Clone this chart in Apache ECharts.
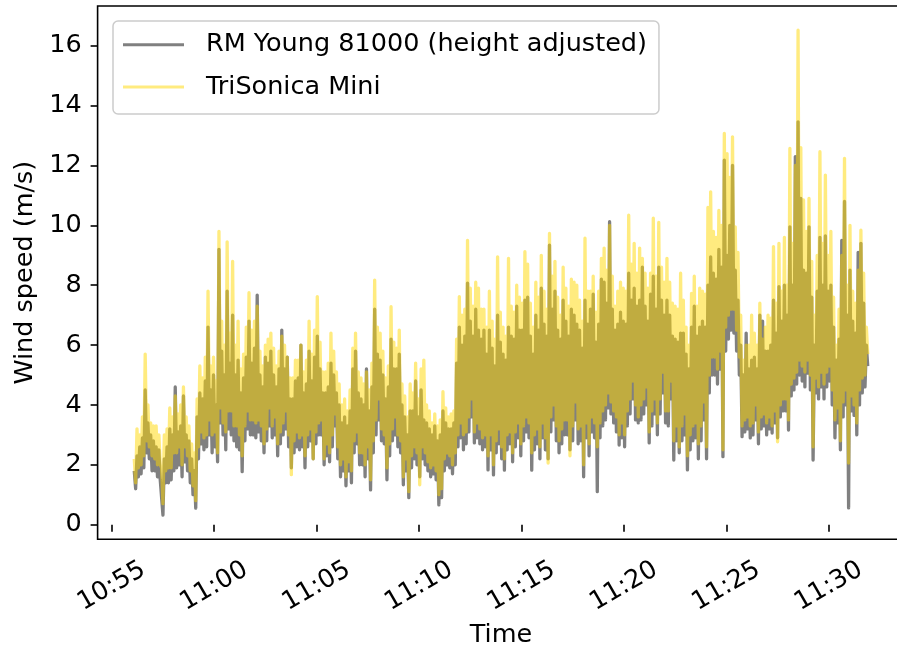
<!DOCTYPE html>
<html>
<head>
<meta charset="utf-8">
<title>Wind speed comparison</title>
<script src="https://cdn.jsdelivr.net/npm/echarts@6/dist/echarts.min.js"></script>
<style>
  html, body { margin: 0; padding: 0; background: #ffffff; }
  #chart { width: 897px; height: 649px; }
</style>
</head>
<body>
<div id="chart"></div>
<script>
// Both records share one clock: a gust maximum every 8 s, the lull that
// follows it 4 s later.
const startTime = '10:56:06';
const sampleSeconds = 8;

const seriesNames = ['RM Young 81000 (height adjusted)', 'TriSonica Mini'];

// RM Young 81000, height adjusted: gust maxima (m/s)
const rmYoungPeaks = [
  1.8, 2.3, 2.6, 2.9, 4.5, 3.4, 3.0, 2.8, 2.6, 2.5,
  1.5, 2.2, 2.6, 3.2, 3.0, 4.6, 3.1, 3.3, 4.3, 3.0,
  2.8, 2.2, 1.8, 3.6, 4.4, 4.2, 4.8, 6.6, 4.5, 5.0,
  4.0, 9.2, 5.8, 5.0, 7.8, 5.4, 7.0, 5.0, 5.5, 4.4,
  4.9, 5.6, 6.8, 5.4, 5.9, 7.67, 5.0, 4.6, 5.6, 5.4,
  5.8, 5.0, 4.6, 5.2, 6.5, 5.2, 5.6, 4.2, 4.2, 4.8,
  4.9, 6.0, 4.4, 4.7, 5.8, 4.8, 5.6, 6.3, 5.2, 4.4,
  4.4, 4.6, 5.4, 5.0, 4.4, 4.0, 3.4, 3.6, 3.3, 3.8,
  5.2, 5.8, 4.4, 4.2, 4.0, 5.2, 3.8, 4.6, 7.2, 5.7,
  5.5, 5.0, 4.2, 4.6, 6.2, 5.2, 5.2, 5.7, 4.0, 3.6,
  3.0, 3.8, 3.8, 4.8, 3.6, 4.5, 3.5, 3.4, 3.2, 3.0,
  3.3, 2.8, 3.0, 3.8, 3.4, 3.2, 3.2, 3.4, 5.4, 6.6,
  6.0, 6.3, 8.07, 6.8, 6.3, 7.2, 6.5, 6.2, 6.5, 5.7,
  6.5, 5.9, 5.3, 7.0, 6.1, 5.7, 5.5, 6.6, 6.3, 6.2,
  7.3, 6.5, 6.5, 7.5, 7.6, 6.3, 5.7, 7.0, 6.5, 7.9,
  6.7, 6.3, 9.34, 7.2, 7.8, 6.5, 6.2, 7.5, 6.8, 6.3,
  7.2, 7.0, 6.7, 6.5, 5.9, 7.5, 6.7, 7.2, 7.7, 6.1,
  6.7, 8.2, 8.1, 7.4, 10.12, 7.2, 6.5, 6.7, 7.1, 6.8,
  6.7, 8.4, 7.5, 7.9, 7.3, 7.5, 8.6, 7.3, 6.8, 7.7,
  8.3, 7.2, 8.6, 7.5, 7.0, 7.5, 7.0, 6.3, 6.2, 6.1,
  6.4, 6.4, 5.7, 5.2, 6.6, 7.3, 6.3, 6.6, 6.8, 6.6,
  8.0, 8.95, 8.4, 8.2, 9.2, 8.6, 12.18, 9.0, 10.0, 12.0,
  8.5, 7.5, 6.0, 5.0, 6.4, 5.2, 5.5, 5.6, 5.2, 7.0,
  6.8, 5.8, 5.8, 6.0, 7.5, 6.4, 7.95, 6.8, 8.0, 7.0,
  9.95, 8.0, 12.3, 13.46, 10.9, 8.5, 8.4, 9.95, 7.6, 6.0,
  7.8, 9.6, 8.0, 9.65, 7.8, 8.0, 6.6, 5.5, 6.2, 9.5,
  10.8, 7.0, 8.5, 6.8, 6.4, 9.1, 9.4, 7.4, 6.0
];

// RM Young 81000, height adjusted: lulls (m/s)
const rmYoungLulls = [
  1.2, 1.6, 1.7, 1.9, 2.4, 2.2, 1.8, 1.8, 1.6, 1.5,
  0.32, 1.4, 1.4, 1.5, 1.8, 1.9, 2.0, 1.6, 2.1, 1.8,
  1.4, 1.0, 0.55, 2.2, 2.7, 2.5, 2.6, 3.0, 2.4, 2.6,
  2.1, 3.4, 3.0, 2.5, 3.2, 3.0, 2.8, 2.6, 2.5, 1.77,
  2.8, 3.2, 3.0, 3.0, 2.9, 3.1, 2.8, 2.4, 2.8, 3.3,
  2.9, 3.0, 2.3, 2.7, 3.0, 3.2, 2.6, 1.9, 2.4, 2.6,
  2.5, 2.6, 1.9, 2.6, 2.8, 2.2, 2.7, 3.0, 3.0, 2.0,
  2.3, 2.1, 2.6, 3.3, 2.2, 1.6, 1.8, 1.3, 1.8, 1.4,
  2.4, 2.7, 2.0, 2.0, 1.6, 2.2, 1.16, 2.4, 3.0, 3.5,
  2.8, 2.7, 1.5, 2.3, 2.8, 3.0, 2.6, 2.4, 1.33, 1.8,
  0.9, 1.9, 2.2, 2.0, 1.6, 2.2, 2.0, 1.8, 1.6, 1.7,
  1.5, 0.66, 0.9, 1.8, 2.0, 1.9, 1.7, 2.0, 2.6, 2.9,
  2.5, 2.7, 3.1, 3.6, 2.73, 2.9, 2.7, 2.5, 2.6, 1.83,
  2.5, 1.66, 2.4, 2.7, 2.2, 1.82, 2.5, 2.7, 2.1, 2.6,
  2.9, 2.3, 2.8, 3.1, 2.9, 1.82, 2.5, 2.7, 2.2, 2.9,
  2.5, 2.2, 3.1, 3.5, 2.8, 2.4, 2.7, 3.0, 3.0, 2.5,
  2.8, 3.5, 2.7, 2.8, 1.6, 2.9, 2.3, 3.1, 2.9, 1.1,
  2.9, 3.3, 3.5, 3.9, 3.7, 3.4, 3.1, 2.66, 2.9, 2.6,
  3.3, 3.7, 4.2, 3.5, 3.4, 3.5, 3.7, 4.0, 2.73, 3.3,
  3.7, 3.0, 3.7, 4.4, 3.4, 3.3, 4.2, 2.16, 2.8, 2.4,
  2.8, 3.0, 1.83, 2.5, 2.8, 2.9, 2.2, 2.8, 3.5, 2.2,
  4.4, 5.0, 5.0, 4.7, 5.2, 2.27, 5.8, 6.2, 6.5, 6.4,
  5.8, 5.0, 2.94, 3.1, 3.2, 2.9, 3.0, 3.5, 2.7, 3.2,
  3.3, 3.0, 3.2, 3.06, 3.4, 2.9, 3.6, 3.8, 3.8, 3.16,
  4.3, 4.5, 4.7, 5.0, 4.8, 4.6, 5.06, 4.5, 2.16, 4.4,
  4.2, 4.6, 4.2, 4.6, 4.8, 4.0, 2.9, 3.4, 2.5, 3.6,
  4.0, 0.56, 3.8, 3.65, 3.0, 4.0, 4.4, 4.6, 5.3
];

// TriSonica Mini: gust maxima (m/s)
const triSonicaPeaks = [
  2.2, 3.2, 3.0, 3.6, 5.7, 4.0, 3.4, 3.3, 3.3, 3.0,
  1.9, 3.0, 3.2, 3.9, 3.6, 4.3, 3.7, 4.0, 4.6, 3.6,
  3.3, 2.7, 2.4, 4.2, 5.3, 4.9, 5.6, 7.8, 5.3, 5.6,
  4.8, 9.8, 6.8, 6.0, 9.45, 6.4, 8.8, 6.0, 6.8, 5.2,
  5.7, 6.6, 7.75, 6.5, 6.8, 7.3, 5.8, 5.3, 6.0, 6.2,
  6.4, 5.9, 5.3, 5.8, 6.3, 6.0, 5.6, 4.9, 4.9, 5.5,
  5.5, 6.0, 5.1, 5.5, 6.8, 5.7, 6.5, 7.62, 6.1, 5.1,
  5.1, 5.4, 6.4, 5.8, 5.1, 4.7, 4.0, 4.2, 3.8, 4.5,
  5.9, 6.4, 5.1, 4.9, 4.7, 5.1, 4.5, 5.4, 8.17, 6.6,
  6.4, 5.8, 4.9, 5.3, 7.28, 6.1, 5.9, 6.5, 4.7, 4.3,
  3.6, 4.7, 4.4, 5.4, 4.2, 5.2, 5.5, 4.0, 3.8, 3.4,
  3.7, 3.3, 3.5, 4.44, 3.9, 3.6, 3.7, 3.8, 6.2, 7.62,
  7.0, 7.2, 9.5, 7.9, 7.3, 8.1, 7.9, 7.2, 7.2, 6.6,
  7.8, 6.8, 6.2, 8.95, 7.1, 6.6, 6.3, 8.9, 7.3, 7.1,
  8.0, 7.6, 7.4, 9.12, 8.7, 7.4, 6.6, 8.1, 7.6, 9.0,
  7.8, 7.2, 9.73, 8.3, 8.8, 7.6, 7.0, 8.6, 7.9, 7.3,
  8.2, 8.1, 8.0, 7.5, 6.8, 9.57, 7.8, 7.8, 8.3, 7.1,
  7.8, 8.9, 9.24, 8.5, 10.0, 8.3, 7.3, 7.8, 8.1, 7.9,
  7.8, 10.34, 8.7, 9.4, 8.4, 9.24, 8.9, 8.4, 7.9, 8.4,
  10.24, 8.3, 10.1, 8.6, 8.1, 8.9, 8.1, 7.4, 7.3, 7.2,
  8.4, 7.5, 6.6, 6.0, 7.73, 8.3, 7.3, 7.9, 7.8, 7.7,
  10.6, 11.12, 9.8, 9.6, 10.5, 10.0, 13.07, 12.4, 11.6, 12.96,
  9.95, 9.1, 7.0, 5.5, 6.0, 6.0, 7.0, 6.4, 6.0, 7.4,
  6.2, 6.6, 7.0, 6.9, 9.29, 7.4, 9.4, 7.8, 9.6, 8.0,
  12.57, 9.4, 12.0, 16.52, 12.6, 10.85, 9.8, 10.9, 8.8, 7.0,
  9.0, 12.46, 9.4, 11.68, 9.0, 9.8, 7.6, 6.0, 7.2, 9.0,
  12.24, 8.0, 10.0, 7.8, 7.4, 8.5, 9.84, 8.4, 6.6
];

// TriSonica Mini: lulls (m/s)
const triSonicaLulls = [
  1.4, 1.9, 2.0, 2.3, 2.8, 2.6, 2.3, 2.2, 2.0, 2.0,
  0.7, 1.8, 1.9, 1.9, 2.4, 2.4, 2.6, 2.0, 2.6, 2.3,
  1.8, 1.3, 0.8, 2.6, 3.1, 2.9, 3.0, 3.5, 3.0, 3.1,
  2.4, 3.9, 3.4, 3.1, 3.8, 3.8, 3.3, 3.3, 3.0, 2.3,
  3.3, 3.8, 3.5, 3.5, 3.4, 3.5, 3.3, 2.7, 3.2, 3.9,
  3.3, 3.6, 2.7, 3.1, 3.4, 3.8, 3.0, 1.67, 2.8, 3.1,
  2.9, 3.0, 2.3, 3.0, 3.2, 2.2, 3.1, 3.4, 3.5, 2.2,
  2.7, 2.4, 3.0, 3.7, 2.6, 2.0, 2.2, 1.6, 2.1, 1.8,
  2.8, 3.1, 2.4, 2.4, 2.0, 2.6, 1.5, 2.8, 3.5, 4.2,
  3.2, 3.0, 1.9, 2.7, 3.2, 3.6, 3.0, 2.8, 1.6, 2.2,
  1.1, 2.3, 2.6, 2.4, 1.33, 2.6, 2.4, 2.1, 1.9, 2.0,
  1.8, 1.0, 1.2, 2.2, 2.4, 2.3, 2.0, 2.4, 3.0, 3.4,
  3.0, 3.1, 3.6, 4.2, 3.1, 3.4, 3.2, 2.9, 3.0, 2.3,
  3.0, 2.0, 2.8, 3.2, 2.6, 2.2, 3.0, 3.1, 2.4, 3.1,
  3.4, 2.7, 3.3, 3.6, 3.4, 2.4, 3.0, 3.2, 2.6, 3.4,
  2.9, 2.06, 3.6, 4.0, 3.3, 2.8, 3.2, 3.5, 3.5, 2.3,
  3.3, 4.1, 3.2, 3.3, 2.0, 3.4, 2.7, 3.6, 3.4, 2.6,
  3.4, 3.8, 4.0, 4.4, 4.1, 3.8, 3.6, 3.0, 3.4, 3.0,
  3.8, 4.2, 4.8, 4.0, 3.6, 4.0, 4.2, 4.6, 3.1, 3.8,
  4.2, 3.4, 4.2, 5.1, 3.8, 3.8, 4.8, 2.8, 3.3, 2.6,
  3.3, 3.7, 2.3, 3.0, 3.3, 3.4, 2.7, 3.3, 4.1, 2.6,
  5.0, 5.6, 5.6, 5.2, 5.8, 2.5, 6.6, 7.0, 7.2, 7.2,
  6.5, 5.6, 3.3, 3.5, 3.6, 3.3, 3.4, 4.0, 3.1, 3.6,
  3.7, 3.4, 3.6, 3.3, 3.8, 2.77, 4.0, 4.2, 4.2, 3.5,
  4.7, 4.9, 5.1, 5.5, 5.3, 5.1, 5.5, 5.0, 2.6, 4.9,
  4.6, 5.1, 4.7, 5.1, 5.3, 4.5, 3.5, 3.9, 2.8, 4.1,
  4.5, 2.06, 4.3, 4.0, 3.4, 4.5, 4.9, 5.0, 5.7
];

// Axis ticks
const xTickLabels = ['10:55', '11:00', '11:05', '11:10', '11:15', '11:20', '11:25', '11:30'];
const yTickValues = [0, 2, 4, 6, 8, 10, 12, 14, 16];

const FONT = 'DejaVu Sans';
const FS = 25.5;

function toSeconds(s) {
  const p = s.split(':').map(Number);
  return p[0] * 3600 + p[1] * 60 + (p[2] || 0);
}
function pad2(n) { return (n < 10 ? '0' : '') + n; }
function formatClock(sec) {
  const m = Math.round(sec / 60);
  return pad2(Math.floor(m / 60)) + ':' + pad2(m % 60);
}

const t0 = toSeconds(startTime);

// Merge maxima and lulls into one time-ordered record
function toRecord(peaks, lulls) {
  const out = [];
  peaks.forEach((p, k) => {
    const t = t0 + k * sampleSeconds;
    out.push([t, p]);
    out.push([t + sampleSeconds / 2, lulls[k]]);
  });
  return out;
}
const rmData = toRecord(rmYoungPeaks, rmYoungLulls);
const triData = toRecord(triSonicaPeaks, triSonicaLulls);

// 5% margins around the data, like the default autoscaling
const tMin = rmData[0][0], tMax = rmData[rmData.length - 1][0];
const tPad = 0.05 * (tMax - tMin);
const allV = rmYoungPeaks.concat(rmYoungLulls, triSonicaPeaks, triSonicaLulls);
const vMin = Math.min(...allV), vMax = Math.max(...allV);
const vPad = 0.05 * (vMax - vMin);

const xTickValues = xTickLabels.map(toSeconds);

const chart = echarts.init(document.getElementById('chart'), null, { renderer: 'canvas' });

chart.setOption({
  animation: false,
  backgroundColor: '#ffffff',
  grid: {
    left: 97.6, top: 6, right: -7.4, bottom: 109.7,
    show: true, borderColor: '#000000', borderWidth: 1.6,
    backgroundColor: 'transparent',
    containLabel: false, outerBoundsMode: 'none'
  },
  legend: {
    orient: 'vertical',
    left: 113, top: 21,
    padding: [5.7, 12, 9, 10],
    itemGap: 6.3,
    itemWidth: 61, itemHeight: 3,
    icon: 'rect',
    backgroundColor: 'rgba(255,255,255,0.8)',
    borderColor: '#cccccc', borderWidth: 1.5, borderRadius: 5,
    textStyle: { fontFamily: FONT, fontSize: FS, color: '#000000', lineHeight: 36, padding: [0, 0, 0, 17] },
    data: seriesNames
  },
  xAxis: {
    type: 'value',
    min: tMin - tPad, max: tMax + tPad,
    axisLine: { show: false },
    splitLine: { show: false },
    axisTick: { show: true, length: 7, lineStyle: { color: '#000000', width: 1.6 }, customValues: xTickValues },
    axisLabel: {
      customValues: xTickValues,
      formatter: v => formatClock(v),
      rotate: 30, align: 'center', verticalAlign: 'middle', margin: 47,
      fontFamily: FONT, fontSize: FS, color: '#000000'
    },
    name: 'Time', nameLocation: 'middle', nameGap: 81,
    nameTextStyle: { fontFamily: FONT, fontSize: FS, color: '#000000' }
  },
  yAxis: {
    type: 'value',
    min: vMin - vPad, max: vMax + vPad,
    axisLine: { show: false },
    splitLine: { show: false },
    axisTick: { show: true, length: 7, lineStyle: { color: '#000000', width: 1.6 }, customValues: yTickValues },
    axisLabel: {
      customValues: yTickValues, margin: 16,
      fontFamily: FONT, fontSize: FS, color: '#000000'
    },
    name: 'Wind speed (m/s)', nameLocation: 'middle', nameGap: 58,
    nameTextStyle: { fontFamily: FONT, fontSize: FS, color: '#000000' }
  },
  series: [
    {
      name: seriesNames[0], type: 'line', data: rmData,
      color: '#808080', showSymbol: false, symbol: 'none',
      lineStyle: { width: 3.3, join: 'round', cap: 'butt' }
    },
    {
      name: seriesNames[1], type: 'line', data: triData,
      color: 'rgba(255,215,0,0.5)', showSymbol: false, symbol: 'none',
      lineStyle: { width: 3.3, join: 'round', cap: 'butt' }
    }
  ]
});
</script>
</body>
</html>
